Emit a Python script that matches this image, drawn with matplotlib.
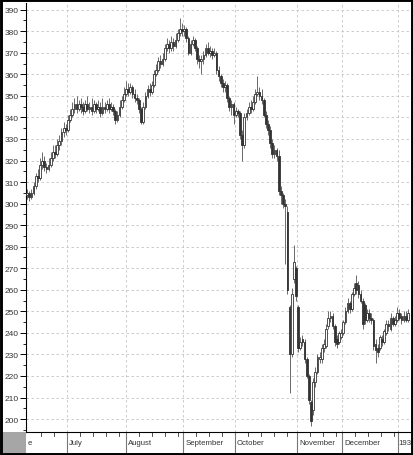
import numpy as np
import matplotlib
matplotlib.use("Agg")
import matplotlib.pyplot as plt
from matplotlib.patches import Rectangle

# daily bars, mid-June 1929 to first days of 1930 (index = trading day)
opens = [304, 305, 303, 305, 308, 313, 312, 318, 320, 317, 316, 318, 321, 324, 323, 327, 329, 333, 335,
         334, 339, 341, 344, 346, 344, 346, 345, 343, 346, 344, 345, 343, 346, 344, 345, 342, 345, 344, 346,
         344, 345, 343, 339, 341, 345, 348,
         351, 353, 352, 354, 351, 349, 348, 344, 338, 345, 350, 353, 352, 355, 360, 362, 366, 365, 367, 372,
         374, 372, 375, 373, 376, 379, 381,
         380, 381, 377, 370, 374, 376, 372, 367, 366, 367, 369, 372, 370, 371, 369, 370, 362, 359, 356, 354,
         355, 349, 345, 346,
         341, 343, 342, 332, 327, 340, 342, 345, 344, 347, 351, 352, 350, 348, 341, 337, 334, 328, 323, 325,
         322, 306, 304, 300, 296, 252, 230, 265, 270, 252,
         233, 237, 236, 228, 220, 208, 204, 217, 222, 228, 228, 233, 234, 243, 247, 248, 243, 237, 236, 238,
         240, 245, 250, 254, 251, 258, 263, 262, 258, 255, 253, 246, 249, 247, 246, 235, 233, 233, 237, 236,
         240, 244, 242, 247, 244, 246, 249, 248, 246, 248, 246]
closes = [305, 303, 305, 308, 313, 312, 318, 320, 317, 316, 318, 321, 324, 323, 327, 329, 333, 335, 334,
          339, 341, 344, 346, 344, 346, 345, 343, 346, 344, 345, 343, 346, 344, 345, 342, 345, 344, 346, 344,
          345, 343, 339, 341, 345, 348, 351,
          353, 352, 354, 351, 349, 348, 344, 338, 345, 350, 353, 352, 355, 360, 362, 366, 365, 367, 372, 374,
          372, 375, 373, 376, 379, 381, 380,
          381, 377, 370, 374, 376, 372, 367, 366, 367, 369, 372, 370, 371, 369, 370, 362, 359, 356, 354, 355,
          349, 345, 346, 341,
          343, 342, 332, 327, 340, 342, 345, 344, 347, 351, 352, 350, 348, 341, 337, 334, 328, 323, 325, 322,
          306, 304, 300, 299, 260, 230, 258, 273, 257, 233,
          236, 236, 228, 220, 209, 199, 217, 222, 229, 229, 233, 235, 242, 247, 248, 243, 236, 235, 240, 240,
          245, 250, 254, 251, 258, 261, 260, 258, 255, 244, 246, 249, 247, 246, 234, 232, 231, 238, 236, 241,
          244, 243, 247, 244, 246, 249, 247, 246, 248, 246, 249]
highs = [307, 306, 307, 310, 314, 316, 321, 324, 322, 319, 321, 324, 327, 327, 330, 332, 335, 338, 337,
         341, 344, 347, 349, 350, 348, 349, 347, 348, 350, 347, 349, 348, 347, 348, 347, 349, 347, 348, 349,
         347, 346, 344, 343, 348, 350, 354,
         357, 356, 356, 355, 353, 351, 349, 345, 347, 352, 355, 356, 357, 362, 365, 368, 369, 370, 374, 377,
         376, 378, 377, 379, 381, 386, 384,
         383, 382, 378, 376, 378, 377, 373, 369, 369, 371, 374, 375, 373, 372, 372, 371, 364, 360, 358, 357,
         356, 350, 348, 347,
         345, 344, 343, 334, 342, 344, 347, 348, 350, 353, 359, 354, 353, 349, 343, 339, 336, 330, 327, 326,
         325, 308, 305, 302, 299, 253, 261, 281, 271, 253,
         238, 239, 237, 229, 221, 209, 219, 224, 230, 231, 235, 237, 244, 250, 250, 249, 244, 239, 241, 242,
         246, 252, 256, 255, 259, 263, 267, 264, 260, 256, 254, 251, 251, 249, 247, 237, 235, 239, 239, 242,
         246, 246, 249, 248, 248, 252, 251, 249, 250, 250, 251]
lows = [302, 301, 302, 304, 307, 310, 311, 316, 315, 314, 315, 317, 320, 321, 322, 325, 327, 331, 332,
        333, 338, 340, 342, 342, 343, 342, 341, 342, 343, 342, 341, 342, 342, 343, 340, 341, 342, 343, 342,
        343, 341, 337, 338, 340, 344, 347,
        350, 350, 351, 349, 347, 346, 342, 337, 337, 344, 349, 350, 351, 354, 359, 361, 363, 364, 366, 371,
        370, 371, 371, 372, 375, 378, 378,
        378, 375, 369, 369, 373, 371, 365, 363, 360, 365, 368, 369, 368, 367, 368, 360, 357, 354, 352, 352,
        347, 343, 341, 337,
        340, 340, 330, 320, 326, 339, 341, 342, 343, 346, 350, 348, 346, 340, 335, 332, 326, 321, 321, 320,
        304, 300, 298, 272, 258, 212, 229, 263, 255, 231,
        232, 234, 226, 219, 207, 197, 202, 215, 221, 226, 226, 231, 233, 242, 245, 242, 234, 233, 235, 237,
        239, 244, 249, 249, 250, 257, 258, 256, 254, 242, 244, 245, 245, 244, 232, 226, 229, 232, 234, 235,
        239, 241, 241, 243, 243, 245, 246, 244, 245, 245, 245]

month_labels = ["e", "July", "August", "September", "October", "November", "December", "193"]
month_starts = [-0.5, 18.6, 46.0, 72.6, 96.7, 125.6, 146.5, 172.6]
y_ticks = list(range(200, 391, 10))

W, H = 413, 456
fig = plt.figure(figsize=(W / 100, H / 100), dpi=100)
fig.patch.set_facecolor("white")
L, R, T, B = 26, 410, 4, 433
ax = fig.add_axes([L / W, 1 - B / H, (R - L) / W, (B - T) / H])

FONT = ["Liberation Sans Narrow", "Liberation Sans", "DejaVu Sans"]
o, c, h, lo = map(np.array, (opens, closes, highs, lows))
x = np.arange(len(o))
up = c >= o

ax.vlines(x, lo, h, color="#6a6a6a", lw=0.7, zorder=2)
body = np.maximum(np.abs(c - o), 0.6)
bot = np.minimum(o, c)
ax.bar(x[up], body[up], bottom=bot[up], width=0.8, color="white", edgecolor="#333333", lw=0.6, zorder=3)
ax.bar(x[~up], body[~up], bottom=bot[~up], width=0.8, color="#333333", edgecolor="#333333", lw=0.6, zorder=3)

ax.set_xlim(-0.5, 178)
ax.set_ylim(194, 393.1)

# grid
for yv in y_ticks:
    ax.axhline(yv, color="#c4c4c4", lw=0.6, ls=(0, (3, 3)), zorder=1)
for xv in month_starts[1:]:
    ax.axvline(xv, color="#c4c4c4", lw=0.6, ls=(0, (3, 3)), zorder=1)

ax.set_yticks(y_ticks)
ax.set_yticks(np.arange(195, 393, 5), minor=True)
ax.tick_params(axis="y", which="major", direction="out", length=4, width=0.7, pad=1, labelsize=6)
ax.tick_params(axis="y", which="minor", direction="out", length=2, width=0.6)
for lab in ax.get_yticklabels():
    lab.set_family(FONT)
    lab.set_color("#333333")

# x axis: weekly ticks + month separators, labels drawn by hand
ax.set_xticks([])
weeks = []
for s, e in zip(month_starts[1:-1], month_starts[2:]):
    weeks += list(np.arange(s + 6, e - 2, 6))
weeks += [month_starts[1] - 6, month_starts[1] - 12]
weeks += list(np.arange(month_starts[-1] + 6, 178, 6))
for xv in weeks:
    ax.plot([xv, xv], [0, -0.01], transform=ax.get_xaxis_transform(), color="#333333", lw=0.6, clip_on=False)
for xv in month_starts[1:]:
    ax.plot([xv, xv], [0, -0.047], transform=ax.get_xaxis_transform(), color="#777777", lw=0.8, clip_on=False)
for xv, lab in zip(month_starts, month_labels):
    off = 0.9 if lab != "193" else 0.2
    ax.text(xv + off, -0.025, lab, transform=ax.get_xaxis_transform(), ha="left", va="center",
            fontsize=5.6, family=FONT, color="#333333", clip_on=False)

for s in ["top", "right"]:
    ax.spines[s].set_visible(False)
ax.spines["left"].set_linewidth(0.8)
ax.spines["bottom"].set_linewidth(0.8)

# grey corner box and heavy frame
fig.patches.append(Rectangle((0, 0), L / W, (H - B) / H, transform=fig.transFigure,
                             facecolor="#a6a6a6", edgecolor="none", zorder=0))
fig.patches.append(Rectangle((0.003, 0.003), 0.994, 0.994, transform=fig.transFigure,
                             fill=False, edgecolor="black", lw=2.1, zorder=10))

fig.savefig("out.png", dpi=100, facecolor="white")
